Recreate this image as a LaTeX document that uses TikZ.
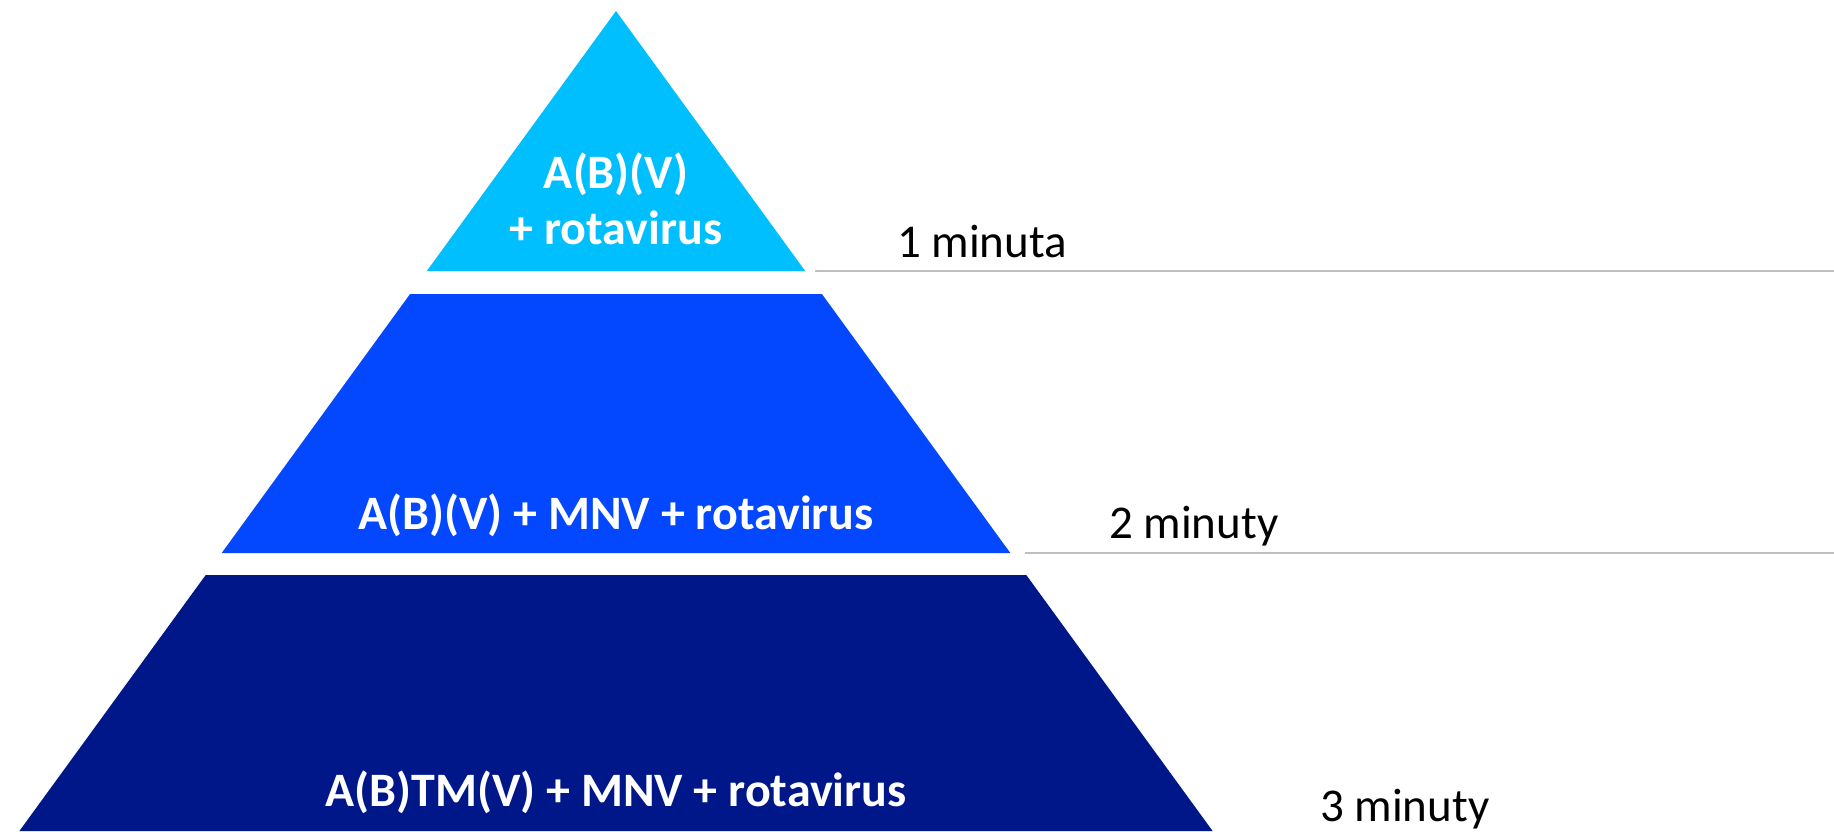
\documentclass[tikz,border=0pt]{standalone}
\usepackage{fontspec}
\setmainfont{Carlito}
\definecolor{lvlA}{RGB}{0,191,255}
\definecolor{lvlB}{RGB}{3,71,255}
\definecolor{lvlC}{RGB}{0,23,137}
\definecolor{guidegray}{RGB}{191,191,191}
\begin{document}
\begin{tikzpicture}[x=1pt,y=-1pt,
  lvltext/.style={text=white,font=\fontsize{48}{56}\selectfont\bfseries,inner sep=0pt,anchor=base},
  timetext/.style={text=black,font=\fontsize{47}{56}\selectfont,inner sep=0pt,anchor=base west},
  guide/.style={draw=guidegray,line width=2pt}]
\useasboundingbox (0,0) rectangle (1834,831);
% tiers
\fill[lvlA] (616,11) -- (805.2,271) -- (426.8,271) -- cycle;
\fill[lvlB] (410.1,294) -- (821.9,294) -- (1010.3,553) -- (221.7,553) -- cycle;
\fill[lvlC] (205.7,575) -- (1026.3,575) -- (1212.6,831) -- (19.4,831) -- cycle;
% tier texts
\node[lvltext] (t1a) at (616,188) {A(B)(V)};
\node[lvltext] (t1b) at (616,244) {+ rotavirus};
\node[lvltext] (t2) at (616,529) {A(B)(V) + MNV + rotavirus};
\node[lvltext] (t3) at (616,806) {A(B)TM(V) + MNV + rotavirus};
% guide lines
\coordinate (g1s) at (815,271);
\coordinate (g1e) at (1834,271);
\coordinate (g2s) at (1025,553);
\coordinate (g2e) at (1834,553);
\draw[guide] (g1s) -- (g1e);
\draw[guide] (g2s) -- (g2e);
% time labels
\node[timetext] (m1) at (897,257) {1 minuta};
\node[timetext] (m2) at (1109,538) {2 minuty};
\node[timetext] (m3) at (1320,821) {3 minuty};
\end{tikzpicture}
\end{document}
